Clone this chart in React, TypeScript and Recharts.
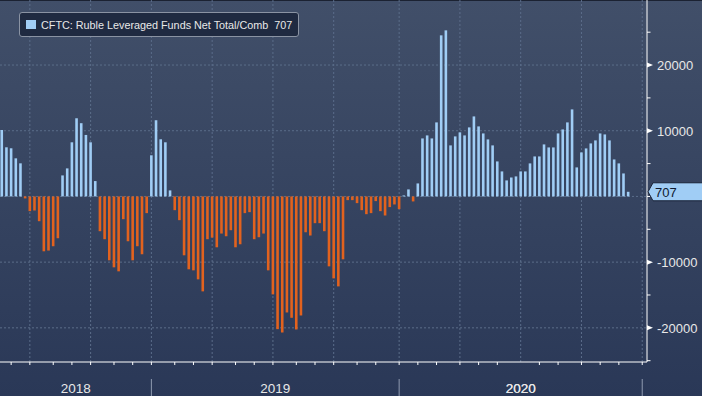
import { BarChart, Bar, XAxis, YAxis, CartesianGrid, Cell } from "recharts";

// weekly CFTC positioning (first bar = 2018-05-22)
const values2018 = [
  10100, 7480, 7330, 5800, 5040, -300, -2240, -2140, -3770, -8350, -8240, -7580, -6360,
  3200, 4270, 8240, 11900, 11150, 9360, 8240, 2340, -5290, -6510, -9720, -10790, -11400,
  -3460, -6820, -9720, -7580, -8800, -2540,
];
const values2019 = [
  6260, 11600, 8700, 8240, 920, -2090, -3610, -8960, -11090, -11250, -12620, -14450,
  -6510, -6260, -7740, -5650, -6060, -5140, -7740, -7280, -2540, -2390, -6510, -6210,
  -5650, -11250, -14910, -20200, -20710, -17660, -18470, -20250, -18120, -5450, -5950,
  -4070, -4070, -5290, -10640, -12470, -13690, -9570, -560, -560, -1020, -2090, -2700,
  -2540, -710, -2240, -2900, -1620, -1220,
];
const values2020 = [
  -1930, 150, 1070, -760, 1980, 8830, 9290, 8830, 11270, 24520, 25280, 7770, 9140, 9750,
  9290, 10510, 12180, 10660, 9590, 8680, 7770, 5330, 3810, 2440, 2890, 3050, 3810, 3810,
  5030, 6090, 6090, 7920, 7460, 7460, 9590, 10200, 11270, 13250, 4420, 6700, 7310, 8070,
  8530, 9590, 9440, 8530, 5630, 5030, 3500, 707,
];

const seriesName = "CFTC: Ruble Leveraged Funds Net Total/Comb";
const yearLabels = ["2018", "2019", "2020"];
const yLabelTicks = [20000, 10000, -10000, -20000];
const yMinorTicks = [25000, 15000, 5000, 0, -5000, -15000, -25000];
const gridValues = [20000, 10000, 0, -10000, -20000];

const BLUE = "#a0cdf5";
const ORANGE = "#e2621e";
const GRID = "#5b6d8a";
const TEXT = "#e8e8e8";
const FONT = "Liberation Sans, Arial, sans-serif";

const START = Date.UTC(2018, 4, 22);
const WEEK = 7 * 24 * 3600 * 1000;
const AXIS_WEEKS = 139;
const X_DOMAIN: [number, number] = [-0.385, 138.02];

const values = [...values2018, ...values2019, ...values2020];
const lastValue = values[values.length - 1];
const weekDates = Array.from({ length: AXIS_WEEKS }, (_, i) => new Date(START + i * WEEK));
const data = values.map((v, i) => ({ i, date: weekDates[i].toISOString().slice(0, 10), v }));

const monthTicks = weekDates
  .map((_, i) => i)
  .filter((i) => i > 0 && weekDates[i].getUTCMonth() !== weekDates[i - 1].getUTCMonth());
const quarterTicks = monthTicks.filter((i) => weekDates[i].getUTCMonth() % 3 === 0);
const yearSeps = monthTicks.filter((i) => weekDates[i].getUTCMonth() === 0);
const yearCenters = yearLabels.map(
  (_, k) => ((k === 0 ? X_DOMAIN[0] : yearSeps[k - 1]) + yearSeps[k]) / 2
);

const YTick = (props: any) => {
  const { x, y, payload } = props;
  const v = payload.value;
  if (v === lastValue) {
    return (
      <g>
        <polygon
          points={`${x + 1},${y} ${x + 6},${y - 9} ${x + 56},${y - 9} ${x + 56},${y + 9} ${x + 6},${y + 9}`}
          fill={BLUE}
          stroke="#1a2236"
        />
        <text x={x + 8} y={y + 5} fill="#0f1a30" fontSize={13} fontFamily={FONT}>
          {v}
        </text>
      </g>
    );
  }
  if (yLabelTicks.includes(v)) {
    return (
      <g>
        <polygon points={`${x},${y - 2.5} ${x + 6},${y} ${x},${y + 2.5}`} fill="#fff" />
        <text x={x + 10} y={y + 5} fill={TEXT} fontSize={13} fontFamily={FONT}>
          {v}
        </text>
      </g>
    );
  }
  return <line x1={x} x2={x + 3.5} y1={y} y2={y} stroke="#fff" />;
};

// month tick marks, year separators and year labels all on the one axis
const XTick = (props: any) => {
  const { x, y, payload } = props;
  const v = payload.value;
  const k = yearCenters.indexOf(v);
  if (k >= 0) {
    return (
      <text x={x} y={y + 31} textAnchor="middle" fill={TEXT} fontSize={13.5} fontFamily={FONT}>
        {yearLabels[k]}
      </text>
    );
  }
  return (
    <g>
      <line x1={x} x2={x} y1={y} y2={y + 3} stroke="#fff" />
      {yearSeps.includes(v) && <line x1={x} x2={x} y1={y + 17} y2={y + 34} stroke="#8f9ab0" />}
    </g>
  );
};

export default function App() {
  return (
    <div
      style={{
        position: "relative",
        width: 702,
        height: 396,
        background: "linear-gradient(to bottom, #414f69, #2a3857)",
      }}
    >
      <style>{"body{margin:0}"}</style>
      <div style={{ position: "absolute", left: 0, top: 0, width: 702, height: 1, background: "#1b2232" }} />
      <BarChart width={702} height={396} data={data} margin={{ top: 0, right: 0, bottom: 0, left: 0 }}>
        <CartesianGrid
          xAxisId="m"
          stroke={GRID}
          strokeDasharray="2 2"
          horizontalValues={gridValues}
          verticalValues={quarterTicks}
        />
        <XAxis
          xAxisId="m"
          dataKey="i"
          type="number"
          domain={X_DOMAIN}
          allowDataOverflow
          ticks={[...monthTicks, ...yearCenters]}
          interval={0}
          tickLine={false}
          tickSize={0}
          tickMargin={0}
          tick={<XTick />}
          axisLine={{ stroke: "#fff" }}
          height={34}
        />
        <YAxis
          orientation="right"
          type="number"
          domain={[-25200, 29900]}
          allowDataOverflow
          ticks={[...yMinorTicks, ...yLabelTicks, lastValue]}
          interval={0}
          width={55}
          axisLine={{ stroke: "#fff" }}
          tickLine={false}
          tickSize={0}
          tickMargin={0}
          tick={<YTick />}
        />
        <Bar xAxisId="m" dataKey="v" barSize={2.6} isAnimationActive={false}>
          {data.map((d) => (
            <Cell key={d.i} fill={d.v >= 0 ? BLUE : ORANGE} />
          ))}
        </Bar>
      </BarChart>
      <div
        style={{
          position: "absolute",
          left: 19,
          top: 12,
          width: 280,
          height: 25,
          boxSizing: "border-box",
          background: "#1f2a41",
          border: "1px solid #8a93a3",
          borderRadius: 3,
          display: "flex",
          alignItems: "center",
          fontFamily: FONT,
          fontSize: 10.8,
          color: TEXT,
          whiteSpace: "pre",
        }}
      >
        <span
          style={{
            flex: "0 0 auto",
            width: 9.5,
            height: 9.5,
            background: BLUE,
            marginLeft: 6,
            marginRight: 5.5,
          }}
        />
        {`${seriesName}  ${lastValue}`}
      </div>
    </div>
  );
}
